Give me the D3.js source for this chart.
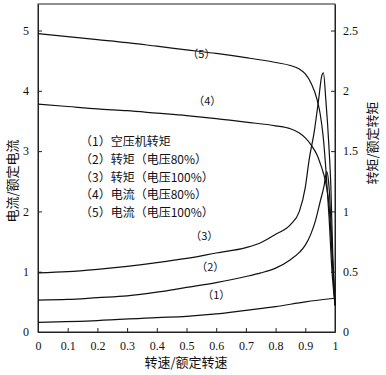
<!DOCTYPE html>
<html>
<head>
<meta charset="utf-8">
<script src="https://cdn.jsdelivr.net/npm/d3@7"></script>
<style>
  body { margin: 0; background: #fff; }
  text { fill: #111; }
  .num text { font-family: "Liberation Serif", "Times New Roman", "DejaVu Serif", serif; font-size: 12px; }
</style>
</head>
<body>
<div id="chart"></div>
<script>
// speed ratio positions used by the curves
const speedCur = [0, 0.1, 0.2, 0.3, 0.4, 0.5, 0.6, 0.7, 0.8, 0.85, 0.88, 0.9, 0.92, 0.94, 0.95, 0.96, 0.97, 0.98, 0.99, 1.0];
// (5) current at 100% voltage (left axis)
const current100 = [4.95, 4.90, 4.85, 4.80, 4.74, 4.68, 4.62, 4.55, 4.47, 4.42, 4.36, 4.28, 4.12, 3.85, 3.62, 3.25, 2.65, 1.9, 1.0, 0.45];
// (4) current at 80% voltage (left axis)
const current80 = [3.78, 3.74, 3.70, 3.67, 3.63, 3.59, 3.54, 3.48, 3.42, 3.37, 3.30, 3.22, 3.10, 2.93, 2.80, 2.65, 2.45, 2.1, 1.3, 0.45];

const speedT100 = [0, 0.1, 0.2, 0.3, 0.4, 0.5, 0.6, 0.7, 0.75, 0.8, 0.85, 0.88, 0.9, 0.913, 0.93, 0.945, 0.955, 0.961, 0.969, 0.98, 0.986, 0.993, 1.0];
// (3) torque at 100% voltage (right axis)
const torque100 = [0.49, 0.50, 0.52, 0.545, 0.575, 0.61, 0.655, 0.70, 0.74, 0.81, 0.89, 1.0, 1.2, 1.43, 1.66, 1.93, 2.12, 2.15, 1.93, 1.52, 1.21, 0.6, 0.22];

const speedT80 = [0, 0.1, 0.2, 0.3, 0.4, 0.5, 0.6, 0.7, 0.75, 0.8, 0.85, 0.88, 0.9, 0.92, 0.935, 0.95, 0.963, 0.972, 0.98, 0.99, 1.0];
// (2) torque at 80% voltage (right axis)
const torque80 = [0.265, 0.27, 0.285, 0.30, 0.33, 0.37, 0.41, 0.46, 0.49, 0.53, 0.6, 0.66, 0.72, 0.82, 0.93, 1.08, 1.21, 1.33, 1.2, 0.7, 0.22];

const speedLoad = [0, 0.2, 0.4, 0.5, 0.6, 0.7, 0.8, 0.9, 1.0];
// (1) compressor load torque (right axis)
const loadTorque = [0.08, 0.095, 0.12, 0.13, 0.15, 0.18, 0.21, 0.25, 0.28];

const xTicks = [0, 0.1, 0.2, 0.3, 0.4, 0.5, 0.6, 0.7, 0.8, 0.9, 1];
const leftTicks = [0, 1, 2, 3, 4, 5];
const rightTicks = [0, 0.5, 1, 1.5, 2, 2.5];

const legendItems = [
  "（1）空压机转矩",
  "（2）转矩（电压80%）",
  "（3）转矩（电压100%）",
  "（4）电流（电压80%）",
  "（5）电流（电压100%）"
];

const width = 386;
const height = 375;
const margin = {top: 4, right: 51, bottom: 43, left: 38};
const innerWidth = width - margin.left - margin.right;
const innerHeight = height - margin.top - margin.bottom;

const svg = d3.select("#chart")
  .append("svg")
  .attr("width", width)
  .attr("height", height);

const chart = svg.append("g")
  .attr("transform", `translate(${margin.left}, ${margin.top})`);

const x = d3.scaleLinear().domain([0, 1]).range([0, innerWidth]);
const yL = d3.scaleLinear().domain([0, 5.44]).range([innerHeight, 0]);
const yR = d3.scaleLinear().domain([0, 2.72]).range([innerHeight, 0]);

const cjkFont = "'Noto Sans CJK SC', sans-serif";
const plain = d => String(d);

// frame
chart.append("rect")
  .attr("width", innerWidth)
  .attr("height", innerHeight)
  .attr("fill", "none")
  .attr("stroke", "#222")
  .attr("stroke-width", 1);

// axes with inward ticks
const xAxis = chart.append("g")
  .attr("transform", `translate(0, ${innerHeight})`)
  .call(d3.axisBottom(x).tickValues(xTicks).tickSizeInner(-4).tickSizeOuter(0)
    .tickPadding(9).tickFormat(plain));
const leftAxis = chart.append("g")
  .call(d3.axisLeft(yL).tickValues(leftTicks).tickSizeInner(-4).tickSizeOuter(0)
    .tickPadding(9).tickFormat(plain));
const rightAxis = chart.append("g")
  .attr("transform", `translate(${innerWidth}, 0)`)
  .call(d3.axisRight(yR).tickValues(rightTicks).tickSizeInner(-4).tickSizeOuter(0)
    .tickPadding(8).tickFormat(plain));

[xAxis, leftAxis, rightAxis].forEach(g => {
  g.attr("class", "num").attr("font-family", null).attr("font-size", null);
  g.select(".domain").attr("stroke", "#222");
  g.selectAll(".tick line").attr("stroke", "#222");
  g.selectAll(".tick text").attr("fill", "#111");
});

// axis titles
svg.append("text")
  .attr("transform", "translate(17, 181) rotate(-90)")
  .attr("text-anchor", "middle")
  .attr("font-family", cjkFont)
  .attr("font-size", 13)
  .text("电流/额定电流");
svg.append("text")
  .attr("transform", "translate(377, 143) rotate(-90)")
  .attr("text-anchor", "middle")
  .attr("font-family", cjkFont)
  .attr("font-size", 13)
  .text("转矩/额定转矩");
svg.append("text")
  .attr("x", 186)
  .attr("y", 367)
  .attr("text-anchor", "middle")
  .attr("font-family", cjkFont)
  .attr("font-size", 13)
  .text("转速/额定转速");

// curves
const curves = [
  {xs: speedCur, ys: current100, y: yL},
  {xs: speedCur, ys: current80, y: yL},
  {xs: speedT100, ys: torque100, y: yR},
  {xs: speedT80, ys: torque80, y: yR},
  {xs: speedLoad, ys: loadTorque, y: yR}
];

curves.forEach(c => {
  const pts = c.xs.map((s, i) => [s, c.ys[i]]);
  const line = d3.line()
    .x(d => x(d[0]))
    .y(d => c.y(d[1]))
    .curve(d3.curveMonotoneX);
  chart.append("path")
    .datum(pts)
    .attr("d", line)
    .attr("fill", "none")
    .attr("stroke", "#111")
    .attr("stroke-width", 1.2);
});

// curve labels
const curveLabels = [
  {t: "（1）", s: 0.6, v: 0.27},
  {t: "（2）", s: 0.58, v: 0.51},
  {t: "（3）", s: 0.56, v: 0.76},
  {t: "（4）", s: 0.57, v: 3.77},
  {t: "（5）", s: 0.55, v: 4.54}
];
curveLabels.forEach((d, i) => {
  const yy = i < 3 ? yR(d.v) : yL(d.v);
  chart.append("text")
    .attr("x", x(d.s))
    .attr("y", yy)
    .attr("text-anchor", "middle")
    .attr("font-family", cjkFont)
    .attr("font-size", 11)
    .text(d.t);
});

// legend text block
svg.append("g")
  .selectAll("text")
  .data(legendItems)
  .enter()
  .append("text")
  .attr("x", 80)
  .attr("y", (d, i) => 146 + i * 17.8)
  .attr("font-family", cjkFont)
  .attr("font-size", 12)
  .text(d => d);
</script>
</body>
</html>
